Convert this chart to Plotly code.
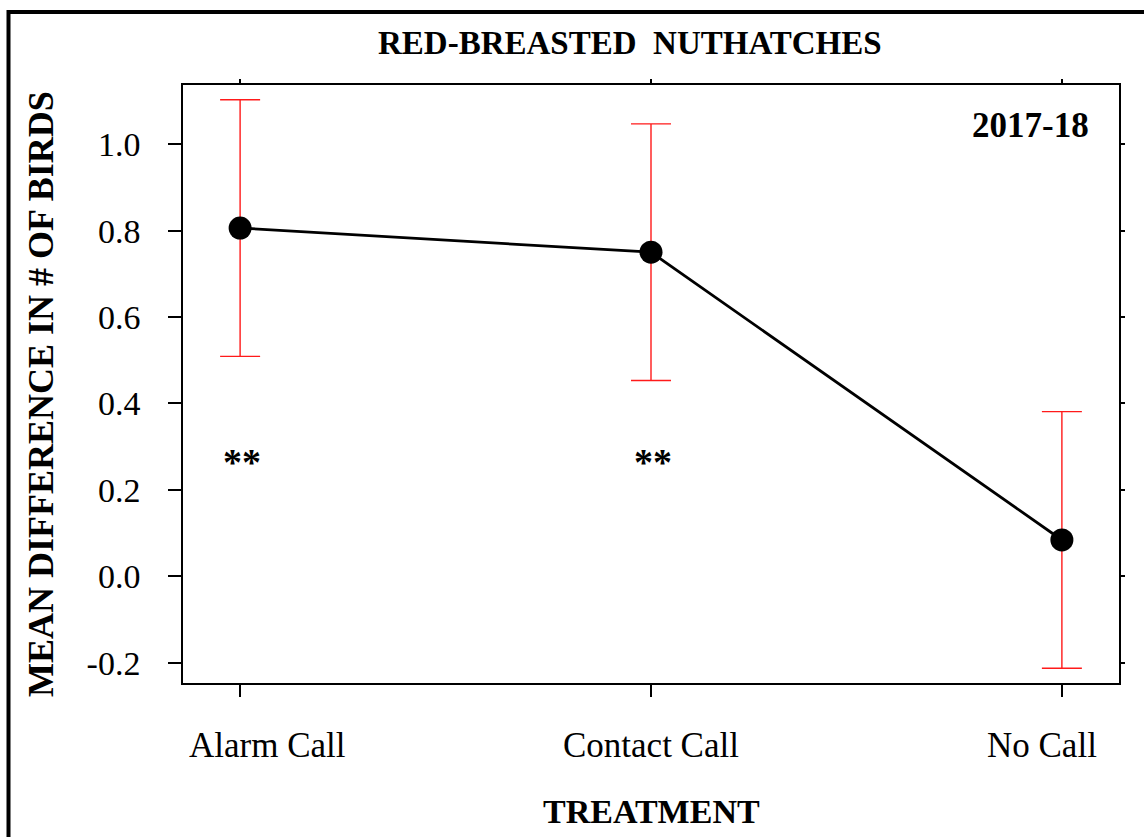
import plotly.graph_objects as go

# ---- data -------------------------------------------------------------
treatments = ["Alarm Call", "Contact Call", "No Call"]
mean_diff = [0.806, 0.750, 0.084]
std_err = [0.297, 0.297, 0.297]
sig_labels = ["**", "**", ""]
sig_level = [0.265, 0.265, 0.265]
y_ticks = [-0.2, 0.0, 0.2, 0.4, 0.6, 0.8, 1.0]
y_tick_text = ["-0.2", "0.0", "0.2", "0.4", "0.6", "0.8", "1.0"]

# ---- page geometry ----------------------------------------------------
W, H = 1144, 837
ML, MR, MT, MB = 183, 25, 85, 154
PW, PH = W - ML - MR, H - MT - MB
FONT = "Liberation Serif, Times New Roman, serif"


def px_x(px):
    return (px - ML) / PW


def px_y(py):
    return (H - MB - py) / PH


x_idx = list(range(len(treatments)))
x_range = [-0.139, 2.139]
y_range = [-0.247, 1.137]

fig = go.Figure()
fig.add_trace(go.Scatter(
    x=x_idx, y=mean_diff,
    mode="lines+markers",
    line=dict(color="black", width=2.8),
    marker=dict(color="black", size=23),
    error_y=dict(type="data", array=std_err, visible=True,
                 color="#ff1a1a", thickness=1.4, width=20),
    showlegend=False,
))

axis_common = dict(showgrid=False, zeroline=False, showline=True,
                   linecolor="black", linewidth=1.5, ticks="outside",
                   tickcolor="black", tickwidth=1.5)

fig.update_layout(
    width=W, height=H,
    margin=dict(l=ML, r=MR, t=MT, b=MB, pad=0),
    paper_bgcolor="white", plot_bgcolor="white",
    font=dict(family=FONT, color="black", size=34),
    xaxis=dict(range=x_range, tickvals=x_idx, ticktext=[""] * 3,
               ticklen=12, **axis_common),
    yaxis=dict(range=y_range, tickvals=y_ticks, ticktext=y_tick_text,
               ticklen=13, ticklabelstandoff=21,
               tickfont=dict(family=FONT, size=34), **axis_common),
    # short mirrored ticks on the top and right edges
    xaxis2=dict(range=x_range, overlaying="x", side="top",
                tickvals=x_idx, showticklabels=False, ticklen=4,
                **axis_common),
    yaxis2=dict(range=y_range, overlaying="y", side="right",
                tickvals=y_ticks, showticklabels=False, ticklen=4,
                **axis_common),
)

# invisible trace to activate the mirrored axes
fig.add_trace(go.Scatter(x=[x_idx[0]], y=[mean_diff[0]], xaxis="x2",
                         yaxis="y2", mode="markers", opacity=0,
                         showlegend=False, hoverinfo="skip"))

# category labels below the axis
label_shift = [27, 0, -20]
for xi, name, sh in zip(x_idx, treatments, label_shift):
    fig.add_annotation(x=xi, y=px_y(745), xref="x", yref="paper",
                       text=name, showarrow=False, xshift=sh,
                       xanchor="center", yanchor="middle",
                       font=dict(family=FONT, size=35))

# significance markers
for xi, s, lv in zip(x_idx, sig_labels, sig_level):
    if s:
        fig.add_annotation(x=xi, y=lv, xref="x", yref="y",
                           text="<b>" + s + "</b>",
                           showarrow=False, xshift=2,
                           font=dict(family=FONT, size=38))

# titles
fig.add_annotation(x=px_x(630), y=px_y(43), xref="paper", yref="paper",
                   text="<b>RED-BREASTED  NUTHATCHES</b>", showarrow=False,
                   xanchor="center", yanchor="middle",
                   font=dict(family=FONT, size=33))
fig.add_annotation(x=px_x(1030), y=px_y(126), xref="paper", yref="paper",
                   text="<b>2017-18</b>", showarrow=False,
                   xanchor="center", yanchor="middle",
                   font=dict(family=FONT, size=35))
fig.add_annotation(x=px_x(651), y=px_y(811), xref="paper", yref="paper",
                   text="<b>TREATMENT</b>", showarrow=False,
                   xanchor="center", yanchor="middle",
                   font=dict(family=FONT, size=34))
fig.add_annotation(x=px_x(41), y=px_y(394), xref="paper", yref="paper",
                   text="<b>MEAN DIFFERENCE IN # OF BIRDS</b>",
                   showarrow=False, textangle=-90,
                   xanchor="center", yanchor="middle",
                   font=dict(family=FONT, size=36))

# outer frame
fig.add_shape(type="rect", xref="paper", yref="paper",
              x0=px_x(8.5), x1=px_x(1160), y0=px_y(12), y1=px_y(860),
              line=dict(color="black", width=4), fillcolor="rgba(0,0,0,0)",
              layer="above")

fig.write_html("out.html")
